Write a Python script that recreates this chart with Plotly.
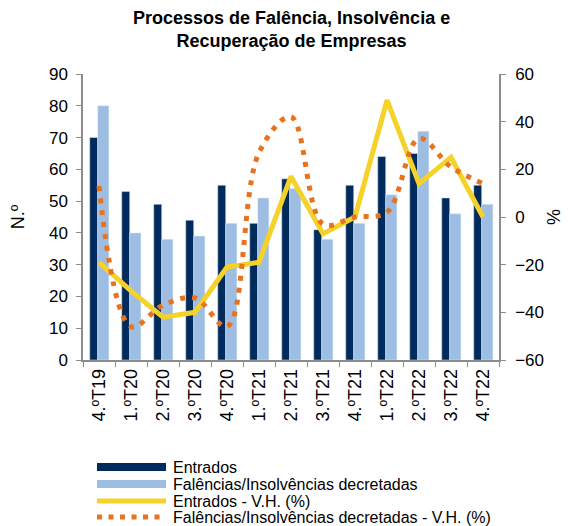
import plotly.graph_objects as go

# Quarterly insolvency proceedings
trimestres = ["4.ºT19", "1.ºT20", "2.ºT20", "3.ºT20", "4.ºT20", "1.ºT21", "2.ºT21",
              "3.ºT21", "4.ºT21", "1.ºT22", "2.ºT22", "3.ºT22", "4.ºT22"]
entrados = [70, 53, 49, 44, 55, 43, 57, 41, 55, 64, 65, 51, 55]
decretadas = [80, 40, 38, 39, 43, 51, 54, 38, 43, 52, 72, 46, 49]
entrados_vh = [-19, -31, -42, -40, -21, -19, 17, -7, 0, 49, 14, 25, 0]
decretadas_vh = [13, -46, -37, -34, -46, 27, 42, -3, 0, 2, 33, 21, 14]

series_names = ["Entrados", "Falências/Insolvências decretadas",
                "Entrados - V.H. (%)", "Falências/Insolvências decretadas - V.H. (%)"]

NAVY = "#002B5C"
LIGHT = "#9DBDE3"
GOLD = "#F5D22A"
ORANGE = "#E8731E"
AXIS = "#8C8C8C"
FONT = "Liberation Sans, Arial, sans-serif"
DOTS = "5px,7px"

W, H = 568, 526
L, R, T, B = 83, 69, 74, 166
PW, PH = W - L - R, H - T - B


def px_x(x):
    return (x - L) / PW


def px_y(y):
    return (H - B - y) / PH


fig = go.Figure()

fig.add_trace(go.Bar(x=trimestres, y=entrados, name=series_names[0],
                     marker_color=NAVY, width=0.25, offset=-0.29, yaxis="y"))
fig.add_trace(go.Bar(x=trimestres, y=decretadas, name=series_names[1],
                     marker_color=LIGHT, width=0.35, offset=-0.04, yaxis="y"))
fig.add_trace(go.Scatter(x=trimestres, y=entrados_vh, name=series_names[2],
                         mode="lines", line=dict(color=GOLD, width=5), yaxis="y2"))
fig.add_trace(go.Scatter(x=trimestres, y=decretadas_vh, name=series_names[3],
                         mode="lines", line=dict(color=ORANGE, width=5, dash=DOTS,
                                                 shape="spline", smoothing=1),
                         yaxis="y2"))

# Legend: wide line keys stacked below the chart
key_styles = [
    dict(color=NAVY, width=8),
    dict(color=LIGHT, width=8),
    dict(color=GOLD, width=5),
    dict(color=ORANGE, width=5, dash="5px,6.5px"),
]
row_y = [467, 484, 501, 517]
for nome, estilo, yy in zip(series_names, key_styles, row_y):
    fig.add_shape(type="line", xref="paper", yref="paper",
                  x0=px_x(97), x1=px_x(166), y0=px_y(yy), y1=px_y(yy), line=estilo)
    fig.add_annotation(text=nome, xref="paper", yref="paper", x=px_x(171), y=px_y(yy),
                       xanchor="left", yanchor="middle", showarrow=False,
                       font=dict(size=16, family=FONT, color="black"))

fig.add_annotation(text="<b>Processos de Falência, Insolvência e<br>Recuperação de Empresas</b>",
                   xref="paper", yref="paper", x=0.5, xanchor="center",
                   y=px_y(6), yanchor="top", showarrow=False,
                   font=dict(size=18, family=FONT, color="black"))

fig.update_layout(
    width=W, height=H,
    margin=dict(l=L, r=R, t=T, b=B, autoexpand=False),
    paper_bgcolor="white", plot_bgcolor="white",
    font=dict(family=FONT, size=17, color="black"),
    barmode="overlay", showlegend=False,
    xaxis=dict(type="category", tickangle=-90, showline=True, linecolor=AXIS,
               linewidth=1.5, ticks="outside", tickson="boundaries", ticklen=5,
               tickcolor=AXIS, showgrid=False, tickfont=dict(size=18)),
    yaxis=dict(range=[0, 90], dtick=10, showline=True, linecolor=AXIS,
               linewidth=1.5, ticks="outside", ticklen=5, tickcolor=AXIS,
               showgrid=False, zeroline=False, ticklabelstandoff=5,
               title=dict(text="N.º", standoff=20, font=dict(size=18)),
               tickfont=dict(size=17)),
    yaxis2=dict(range=[-60, 60], dtick=20, overlaying="y", side="right",
                showline=True, linecolor=AXIS, linewidth=1.5, ticks="outside",
                ticklen=5, tickcolor=AXIS, showgrid=False, zeroline=False,
                ticklabelstandoff=6,
                title=dict(text="%", standoff=4, font=dict(size=18)),
                tickfont=dict(size=17)),
)

fig.write_html("out.html")
